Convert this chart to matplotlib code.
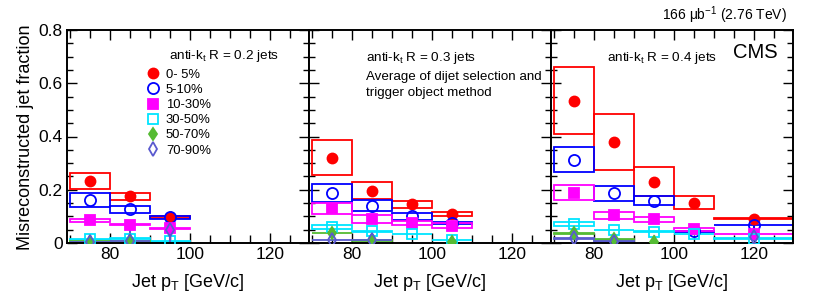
import numpy as np
import matplotlib
matplotlib.use("Agg")
import matplotlib.pyplot as plt
from matplotlib.patches import Rectangle
from matplotlib.lines import Line2D
from matplotlib.ticker import MultipleLocator, FixedLocator

plt.rcParams['font.family'] = ['Liberation Sans', 'DejaVu Sans']
plt.rcParams['mathtext.fontset'] = 'custom'
plt.rcParams['mathtext.rm'] = 'Liberation Sans'
plt.rcParams['mathtext.it'] = 'Liberation Sans'

# ---------------- data ----------------
centralities = ["0- 5%", "5-10%", "10-30%", "30-50%", "50-70%", "70-90%"]
colors = ["#ff0000", "#0000ff", "#ff00ff", "#00e5ff", "#55bb33", "#5a5acf"]
markers = ["o", "o", "s", "s", "d", "d"]
filled = [True, False, True, False, True, False]
msizes = [7.2, 8.0, 6.8, 7.2, 6.5, 7.0]

# R = 0.2
pt_02 = [75, 85, 95]
hw_02 = [5, 5, 5]
val_02 = [
    [0.233, 0.175, 0.098],
    [0.162, 0.126, 0.096],
    [0.085, 0.068, 0.055],
    [0.014, 0.016, 0.006],
    [0.005, 0.006, np.nan],
    [0.004, 0.008, 0.050],
]
sys_02 = [
    [0.031, 0.014, 0.003],
    [0.025, 0.012, 0.005],
    [0.007, 0.002, 0.001],
    [0.002, 0.002, 0.001],
    [0.001, 0.001, 0.0],
    [0.001, 0.001, 0.0],
]
stat_02 = [
    [0, 0, 0],
    [0, 0, 0],
    [0, 0, 0],
    [0, 0, 0],
    [0, 0, 0],
    [0, 0.05, 0.045],
]

# R = 0.3
pt_03 = [75, 85, 95, 105]
hw_03 = [5, 5, 5, 5]
val_03 = [
    [0.320, 0.197, 0.145, 0.110],
    [0.187, 0.140, 0.100, 0.075],
    [0.130, 0.090, 0.075, 0.065],
    [0.060, 0.044, 0.034, 0.011],
    [0.037, 0.010, np.nan, 0.005],
    [0.011, 0.011, np.nan, np.nan],
]
sys_03 = [
    [0.065, 0.032, 0.014, 0.008],
    [0.033, 0.020, 0.012, 0.004],
    [0.020, 0.014, 0.009, 0.009],
    [0.006, 0.001, 0.001, 0.001],
    [0.001, 0.001, 0.0, 0.0],
    [0.001, 0.001, 0.0, 0.0],
]
stat_03 = [[0] * 4 for _ in range(6)]

# R = 0.4
pt_04 = [75, 85, 95, 105, 120]
hw_04 = [5, 5, 5, 5, 10]
val_04 = [
    [0.535, 0.381, 0.230, 0.152, 0.092],
    [0.312, 0.187, 0.159, 0.044, 0.068],
    [0.189, 0.105, 0.089, 0.052, 0.034],
    [0.071, 0.049, 0.043, 0.034, 0.016],
    [0.036, 0.014, 0.004, np.nan, np.nan],
    [0.017, 0.005, np.nan, np.nan, 0.024],
]
sys_04 = [
    [0.125, 0.105, 0.054, 0.024, 0.001],
    [0.047, 0.028, 0.018, 0.002, 0.001],
    [0.027, 0.013, 0.009, 0.006, 0.001],
    [0.006, 0.001, 0.001, 0.001, 0.001],
    [0.001, 0.001, 0.0, 0.0, 0.0],
    [0.001, 0.001, 0.0, 0.0, 0.0],
]
stat_04 = [
    [0, 0, 0, 0, 0],
    [0, 0, 0, 0, 0.025],
    [0, 0, 0, 0, 0],
    [0, 0, 0, 0, 0],
    [0, 0, 0, 0, 0],
    [0, 0, 0, 0, 0.018],
]

panels = [
    (pt_02, hw_02, val_02, sys_02, stat_02),
    (pt_03, hw_03, val_03, sys_03, stat_03),
    (pt_04, hw_04, val_04, sys_04, stat_04),
]

# ---------------- figure ----------------
W, H = 813, 306
fig = plt.figure(figsize=(W / 100, H / 100), dpi=100)
left_px, pw, top_px, bot_px = 67, 242, 30, 243
axes = []
for i in range(3):
    ax = fig.add_axes([(left_px + i * pw) / W, (H - bot_px) / H, pw / W, (bot_px - top_px) / H])
    axes.append(ax)

for i, (ax, (pt, hw, vals, syss, stats)) in enumerate(zip(axes, panels)):
    for k in range(6):
        c = colors[k]
        for j in range(len(pt)):
            v = vals[k][j]
            s = syss[k][j]
            if np.isnan(v) or s <= 0:
                continue
            ax.add_patch(Rectangle((pt[j] - hw[j], v - s), 2 * hw[j], 2 * s,
                                   fill=False, ec=c, lw=1.3, zorder=2))
        ax.errorbar(pt, vals[k], yerr=stats[k], fmt=markers[k], color=c,
                    ms=msizes[k], mfc=c if filled[k] else 'none', mec=c, mew=1.3,
                    elinewidth=1.5, capsize=0, zorder=3)

    ax.set_xlim(69.25, 129.75)
    ax.set_ylim(0, 0.8)
    ax.xaxis.set_major_locator(FixedLocator([80, 100, 120]))
    ax.xaxis.set_minor_locator(MultipleLocator(5))
    ax.yaxis.set_major_locator(MultipleLocator(0.2))
    ax.yaxis.set_minor_locator(MultipleLocator(0.05))
    ax.tick_params(which='both', direction='in', top=True, right=True, labelsize=12.5,
                   width=1.0, pad=3)
    ax.tick_params(which='major', length=7)
    ax.tick_params(which='minor', length=4)
    ax.tick_params(axis='x', which='minor', length=6)
    for sp in ax.spines.values():
        sp.set_linewidth(1.4)
    ax.set_yticks([0, 0.2, 0.4, 0.6, 0.8])
    if i == 0:
        ax.set_yticklabels(["0", "0.2", "0.4", "0.6", "0.8"])
    else:
        ax.set_yticklabels([])
    ax.set_xlabel("Jet p$_\\mathregular{T}$ [GeV/c]", fontsize=13, labelpad=7)

# legend (R = 0.2 panel)
handles = [Line2D([], [], ls='none', marker=markers[k], color=colors[k], ms=msizes[k],
                  mfc=colors[k] if filled[k] else 'none', mec=colors[k], mew=1.3)
           for k in range(6)]
leg = axes[0].legend(handles, centralities, loc='upper left', bbox_to_anchor=(0.325, 0.818),
                     frameon=False, fontsize=9.4, labelspacing=0.23, handlelength=1.2,
                     handletextpad=0.35, borderpad=0, borderaxespad=0)

axes[0].text(0.42, 0.876, "anti-k$_\\mathregular{t}$ R = 0.2 jets", transform=axes[0].transAxes,
             fontsize=9.7, ha='left', va='center')
axes[1].text(0.235, 0.868, "anti-k$_\\mathregular{t}$ R = 0.3 jets", transform=axes[1].transAxes,
             fontsize=9.7, ha='left', va='center')
axes[1].text(0.235, 0.780, "Average of dijet selection and", transform=axes[1].transAxes,
             fontsize=9.6, ha='left', va='center')
axes[1].text(0.235, 0.705, "trigger object method", transform=axes[1].transAxes,
             fontsize=9.6, ha='left', va='center')
axes[2].text(0.23, 0.868, "anti-k$_\\mathregular{t}$ R = 0.4 jets", transform=axes[2].transAxes,
             fontsize=9.7, ha='left', va='center')
axes[2].text(778 / W, 1 - 52.5 / H, "CMS", transform=fig.transFigure, fontsize=14.5,
             ha='right', va='center')
fig.text(787 / W, 1 - 15 / H, "166 μb$^{\\mathregular{-1}}$ (2.76 TeV)", fontsize=10,
         ha='right', va='center')
fig.text(25 / W, (H - 137) / H, "Misreconstructed jet fraction", fontsize=13,
         rotation=90, ha='center', va='center')

fig.savefig("out.png", dpi=100)
